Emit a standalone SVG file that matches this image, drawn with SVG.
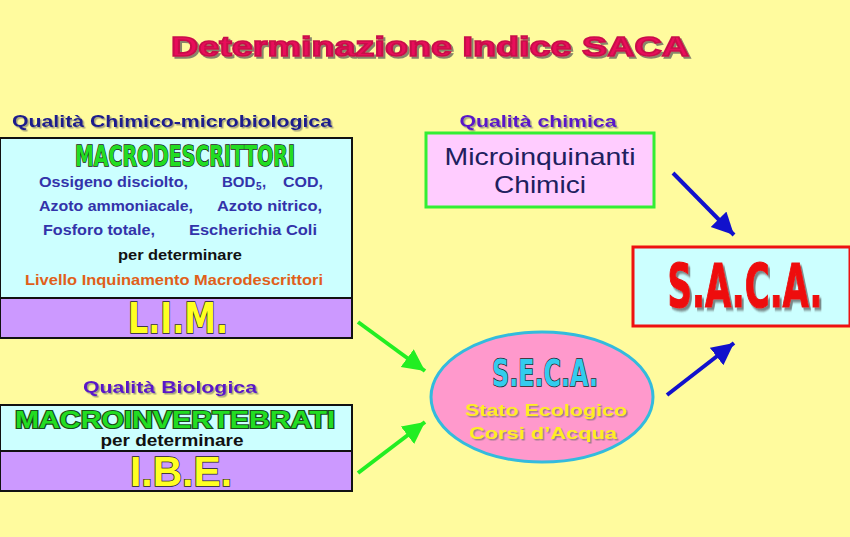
<svg xmlns="http://www.w3.org/2000/svg" width="850" height="537" viewBox="0 0 850 537">
<defs>
<filter id="sh" x="-20%" y="-30%" width="140%" height="170%"><feDropShadow dx="2" dy="2" stdDeviation="0.6" flood-color="#555" flood-opacity="0.7"/></filter>
<filter id="sh1" x="-20%" y="-30%" width="140%" height="170%"><feDropShadow dx="1.5" dy="1.5" stdDeviation="0.5" flood-color="#666" flood-opacity="0.6"/></filter>
<marker id="ag" markerUnits="userSpaceOnUse" markerWidth="26" markerHeight="26" refX="22" refY="11" orient="auto"><path d="M0,0 L22,11 L0,22 Z" fill="#22EE22"/></marker>
<marker id="ab" markerUnits="userSpaceOnUse" markerWidth="26" markerHeight="26" refX="22" refY="11" orient="auto"><path d="M0,0 L22,11 L0,22 Z" fill="#1111CC"/></marker>
</defs>
<style>
.b{font-family:"Liberation Sans",Arial,sans-serif;font-weight:bold}
.r{font-family:"Liberation Sans",Arial,sans-serif}
.c{font-family:"DejaVu Sans Condensed","Liberation Sans Narrow","Liberation Sans",sans-serif;font-weight:bold}
.hd{font-size:17px;fill:#1A1A8C}
.bl{font-size:15px;fill:#3333AA}
.ol{stroke:#222;stroke-width:1.5px;paint-order:stroke}
</style>
<rect width="850" height="537" fill="#FFFB9E"/>
<text class="b" x="430" y="56" font-size="28" fill="#E8105A" stroke="#C80A4A" stroke-width="1.6" text-anchor="middle" textLength="518" lengthAdjust="spacingAndGlyphs" filter="url(#sh)">Determinazione Indice SACA</text>

<g id="lim">
<text class="b hd" x="172" y="127" text-anchor="middle" textLength="320" lengthAdjust="spacingAndGlyphs" filter="url(#sh1)">Qualità Chimico-microbiologica</text>
<rect x="0" y="138" width="352" height="160" fill="#CCFFFF" stroke="#111" stroke-width="2"/>
<rect x="0" y="298" width="352" height="40" fill="#CC99FF" stroke="#111" stroke-width="2"/>
<text class="c ol" x="185" y="166" font-size="29" fill="#22DD22" text-anchor="middle" textLength="220" lengthAdjust="spacingAndGlyphs">MACRODESCRITTORI</text>
<text class="b bl" x="39" y="187" textLength="149" lengthAdjust="spacingAndGlyphs">Ossigeno disciolto,</text>
<text class="b bl" x="222" y="187">BOD</text>
<text class="b" x="256" y="190" font-size="10" fill="#3333AA">5</text>
<text class="b bl" x="262" y="187">,</text>
<text class="b bl" x="283" y="187" textLength="40" lengthAdjust="spacingAndGlyphs">COD,</text>
<text class="b bl" x="39" y="211" textLength="154" lengthAdjust="spacingAndGlyphs">Azoto ammoniacale,</text>
<text class="b bl" x="217" y="211" textLength="105" lengthAdjust="spacingAndGlyphs">Azoto nitrico,</text>
<text class="b bl" x="43" y="235" textLength="112" lengthAdjust="spacingAndGlyphs">Fosforo totale,</text>
<text class="b bl" x="189" y="235" textLength="128" lengthAdjust="spacingAndGlyphs">Escherichia Coli</text>
<text class="b" x="118" y="260" font-size="15" fill="#111" textLength="124" lengthAdjust="spacingAndGlyphs">per determinare</text>
<text class="b" x="25" y="285" font-size="15" fill="#E0601A" textLength="298" lengthAdjust="spacingAndGlyphs">Livello Inquinamento Macrodescrittori</text>
<text class="c ol" x="178" y="333" font-size="42" fill="#FFFF22" text-anchor="middle" textLength="100" lengthAdjust="spacingAndGlyphs">L.I.M.</text>
</g>

<g id="ibe">
<text class="b" x="170" y="393" font-size="17" fill="#5A14C8" text-anchor="middle" textLength="174" lengthAdjust="spacingAndGlyphs" filter="url(#sh1)">Qualità Biologica</text>
<rect x="0" y="405" width="352" height="46" fill="#CCFFFF" stroke="#111" stroke-width="2"/>
<rect x="0" y="451" width="352" height="40" fill="#CC99FF" stroke="#111" stroke-width="2"/>
<text class="b" x="175" y="428" font-size="24" fill="#22DD22" stroke="#1a4a1a" stroke-width="2.2" paint-order="stroke" text-anchor="middle" textLength="320" lengthAdjust="spacingAndGlyphs">MACROINVERTEBRATI</text>
<text class="b" x="172" y="446" font-size="16" fill="#111" text-anchor="middle" textLength="143" lengthAdjust="spacingAndGlyphs">per determinare</text>
<text class="b ol" x="181" y="486" font-size="43" fill="#FFFF22" text-anchor="middle" textLength="102" lengthAdjust="spacingAndGlyphs">I.B.E.</text>
</g>

<g id="micro">
<text class="b" x="538" y="127" font-size="17" fill="#5A14C8" text-anchor="middle" textLength="157" lengthAdjust="spacingAndGlyphs" filter="url(#sh1)">Qualità chimica</text>
<rect x="426" y="133" width="228" height="74" fill="#FFCCFF" stroke="#33EE33" stroke-width="3"/>
<text class="r" x="540" y="165" font-size="24" fill="#20205E" text-anchor="middle" textLength="191" lengthAdjust="spacingAndGlyphs">Microinquinanti</text>
<text class="r" x="540" y="193" font-size="24" fill="#20205E" text-anchor="middle" textLength="92" lengthAdjust="spacingAndGlyphs">Chimici</text>
</g>

<g id="saca">
<rect x="633" y="247" width="217" height="79" fill="#CCFFFF" stroke="#EE1111" stroke-width="3"/>
<text class="c" transform="translate(745,307) scale(1,1.5)" x="0" y="0" font-size="40" fill="#EE1111" stroke="#EE1111" stroke-width="0.8" text-anchor="middle" textLength="155" lengthAdjust="spacingAndGlyphs" filter="url(#sh)">S.A.C.A.</text>
</g>

<g id="seca">
<ellipse cx="542" cy="397" rx="111" ry="65" fill="#FF99CC" stroke="#33BBDD" stroke-width="3"/>
<text class="c ol" x="545" y="386" font-size="38" fill="#33CCEE" text-anchor="middle" textLength="106" lengthAdjust="spacingAndGlyphs">S.E.C.A.</text>
<text class="b" x="546" y="416" font-size="17" fill="#FFEE22" text-anchor="middle" textLength="162" lengthAdjust="spacingAndGlyphs" filter="url(#sh1)">Stato Ecologico</text>
<text class="b" x="543" y="439" font-size="17" fill="#FFEE22" text-anchor="middle" textLength="148" lengthAdjust="spacingAndGlyphs" filter="url(#sh1)">Corsi d’Acqua</text>
</g>

<g id="connectors" stroke-width="4" fill="none">
<line x1="358" y1="322" x2="425" y2="371" stroke="#22EE22" marker-end="url(#ag)"/>
<line x1="358" y1="473" x2="425" y2="422" stroke="#22EE22" marker-end="url(#ag)"/>
<line x1="673" y1="173" x2="734" y2="235" stroke="#1111CC" marker-end="url(#ab)"/>
<line x1="667" y1="395" x2="734" y2="343" stroke="#1111CC" marker-end="url(#ab)"/>
</g>
</svg>
